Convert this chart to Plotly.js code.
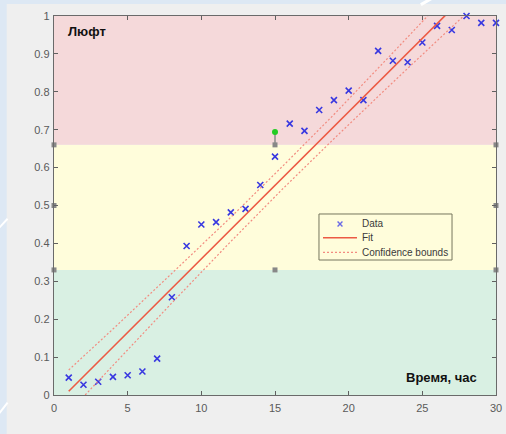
<!DOCTYPE html>
<html>
<head>
<meta charset="utf-8">
<script src="https://cdn.plot.ly/plotly-3.0.1.min.js"></script>
<style>
  html, body { margin: 0; padding: 0; background: #dde8f4; }
  #chart { width: 506px; height: 434px; }
</style>
</head>
<body>
<div id="chart"></div>
<script>
// Measured backlash over time
const hours = [1, 2, 3, 4, 5, 6, 7, 8, 9, 10, 11, 12, 13, 14, 15,
               16, 17, 18, 19, 20, 21, 22, 23, 24, 25, 26, 27, 28, 29, 30];
const backlash = [0.046, 0.027, 0.035, 0.048, 0.052, 0.062, 0.096, 0.258, 0.393, 0.450,
                  0.456, 0.482, 0.491, 0.554, 0.629, 0.716, 0.697, 0.752, 0.778, 0.803,
                  0.778, 0.908, 0.882, 0.878, 0.930, 0.974, 0.963, 1.000, 0.982, 0.982];

// Linear fit and its confidence bounds
const fitX = [1, 30];
const fitY = [0.010, 1.135];
const boundX = [1, 4, 8, 12, 15.5, 19, 23, 27, 30];
const boundUpper = [0.066, 0.174, 0.321, 0.469, 0.603, 0.740, 0.903, 1.067, 1.191];
const boundLower = [-0.046, 0.078, 0.243, 0.405, 0.543, 0.676, 0.825, 0.971, 1.079];

// Zone bands (green / yellow / red)
const bandEdges = [0, 0.33, 0.66, 1];
const bandColors = ['#d9f0e3', '#fffddb', '#f5d9da'];

// Selection handles of the middle band
const handleX = [0, 0, 0, 15, 15, 30, 30, 30];
const handleY = [0.33, 0.5, 0.66, 0.66, 0.33, 0.66, 0.5, 0.33];
const rotateX = [15, 15];
const rotateY = [0.66, 0.694];

// Legend labels
const legendLabels = ['Data', 'Fit', 'Confidence bounds'];

const xMax = 30;
const dataColor = '#3838e0';
const fitColor = '#ec5a44';
const boundColor = '#f28c80';
const font = 'Liberation Sans, Arial, sans-serif';

const shapes = [
  // light gray page area
  { type: 'rect', xref: 'paper', yref: 'paper', layer: 'below',
    x0: -0.107, x1: 1.05, y0: -0.2, y1: 1.0317,
    fillcolor: '#efefef', line: { width: 0 } },
  // white streaks in the blue frame
  { type: 'line', xref: 'paper', yref: 'paper', layer: 'below',
    x0: -0.125, y0: 0.44, x1: -0.105, y1: 0.465,
    line: { color: '#ffffff', width: 2 } },
  { type: 'line', xref: 'paper', yref: 'paper', layer: 'below',
    x0: -0.125, y0: -0.05, x1: -0.105, y1: -0.02,
    line: { color: '#ffffff', width: 2 } },
  { type: 'line', xref: 'paper', yref: 'paper', layer: 'below',
    x0: 0.83, y0: 1.03, x1: 0.86, y1: 1.05,
    line: { color: '#ffffff', width: 3 } }
];
for (let i = 0; i < bandColors.length; i++) {
  shapes.push({ type: 'rect', xref: 'x', yref: 'y', layer: 'below',
    x0: 0, x1: xMax, y0: bandEdges[i], y1: bandEdges[i + 1],
    fillcolor: bandColors[i], line: { width: 0 } });
}

// Legend box (paper coordinates of the plot area)
const lg = { x0: 0.5995, x1: 0.9005, y0: 0.3562, y1: 0.4776,
             symX: 0.6471, lineX0: 0.6086, lineX1: 0.6855, textX: 0.6923,
             rows: [0.4512, 0.4150, 0.3765] };
shapes.push({ type: 'rect', xref: 'paper', yref: 'paper', layer: 'above',
  x0: lg.x0, x1: lg.x1, y0: lg.y0, y1: lg.y1,
  fillcolor: 'rgba(0,0,0,0)', line: { color: '#76765e', width: 1 } });
// cross symbol for "Data"
const dx = 0.0055, dy = 0.0064;
shapes.push({ type: 'line', xref: 'paper', yref: 'paper', layer: 'above',
  x0: lg.symX - dx, x1: lg.symX + dx, y0: lg.rows[0] - dy, y1: lg.rows[0] + dy,
  line: { color: '#6a6ae6', width: 1.4 } });
shapes.push({ type: 'line', xref: 'paper', yref: 'paper', layer: 'above',
  x0: lg.symX - dx, x1: lg.symX + dx, y0: lg.rows[0] + dy, y1: lg.rows[0] - dy,
  line: { color: '#6a6ae6', width: 1.4 } });
// line samples for "Fit" and "Confidence bounds"
shapes.push({ type: 'line', xref: 'paper', yref: 'paper', layer: 'above',
  x0: lg.lineX0, x1: lg.lineX1, y0: lg.rows[1], y1: lg.rows[1],
  line: { color: fitColor, width: 1.5 } });
shapes.push({ type: 'line', xref: 'paper', yref: 'paper', layer: 'above',
  x0: lg.lineX0, x1: lg.lineX1, y0: lg.rows[2], y1: lg.rows[2],
  line: { color: boundColor, width: 1.2, dash: '2px,2px' } });

const traces = [
  { x: hours, y: backlash, type: 'scatter', mode: 'markers', name: legendLabels[0],
    cliponaxis: false,
    marker: { symbol: 'x-thin', size: 6, line: { color: dataColor, width: 1.6 }, color: dataColor } },
  { x: fitX, y: fitY, type: 'scatter', mode: 'lines', name: legendLabels[1],
    line: { color: fitColor, width: 1.6 } },
  { x: boundX, y: boundUpper, type: 'scatter', mode: 'lines', name: legendLabels[2],
    line: { color: boundColor, width: 1.2, dash: '2px,2px' } },
  { x: boundX, y: boundLower, type: 'scatter', mode: 'lines', name: legendLabels[2],
    line: { color: boundColor, width: 1.2, dash: '2px,2px' } },
  { x: rotateX, y: rotateY, type: 'scatter', mode: 'lines',
    hoverinfo: 'skip', line: { color: '#8a8a8a', width: 1.5 } },
  { x: handleX, y: handleY, type: 'scatter', mode: 'markers',
    cliponaxis: false, hoverinfo: 'skip',
    marker: { symbol: 'square', size: 5, color: '#888888' } },
  { x: [rotateX[1]], y: [rotateY[1]], type: 'scatter', mode: 'markers',
    cliponaxis: false, hoverinfo: 'skip',
    marker: { symbol: 'circle', size: 6, color: '#22cc22' } }
];

const axisCommon = {
  ticks: 'inside', ticklen: 4, tickwidth: 1, tickcolor: '#606060',
  showline: true, linecolor: '#6a6a6a', linewidth: 1.3, mirror: 'ticks',
  showgrid: false, zeroline: false,
  tickfont: { family: font, size: 11, color: '#5a5a5a' }
};

const legendAnnotations = legendLabels.map((label, i) => ({
  xref: 'paper', yref: 'paper', x: lg.textX, y: lg.rows[i],
  xanchor: 'left', yanchor: 'middle', text: label, showarrow: false,
  font: { family: font, size: 10, color: '#3a3a3a' }
}));

const layout = {
  width: 506, height: 434,
  margin: { l: 54, r: 10, t: 16, b: 39, pad: 0 },
  paper_bgcolor: '#dde8f4',
  plot_bgcolor: 'rgba(0,0,0,0)',
  showlegend: false,
  xaxis: Object.assign({ range: [0, xMax], dtick: 5, tick0: 0, ticklabelstandoff: 2 }, axisCommon),
  yaxis: Object.assign({ range: [0, 1], dtick: 0.1, tick0: 0, ticklabelstandoff: 1 }, axisCommon),
  shapes: shapes,
  annotations: [
    { xref: 'paper', yref: 'paper', x: 0.027, y: 0.958, xanchor: 'left', yanchor: 'middle',
      text: '<b>Люфт</b>', showarrow: false,
      font: { family: font, size: 13, color: '#111111' } },
    { xref: 'paper', yref: 'paper', x: 0.961, y: 0.046, xanchor: 'right', yanchor: 'middle',
      text: '<b>Время, час</b>', showarrow: false,
      font: { family: font, size: 13, color: '#111111' } }
  ].concat(legendAnnotations)
};

Plotly.newPlot('chart', traces, layout, { displayModeBar: false, staticPlot: true });
</script>
</body>
</html>
